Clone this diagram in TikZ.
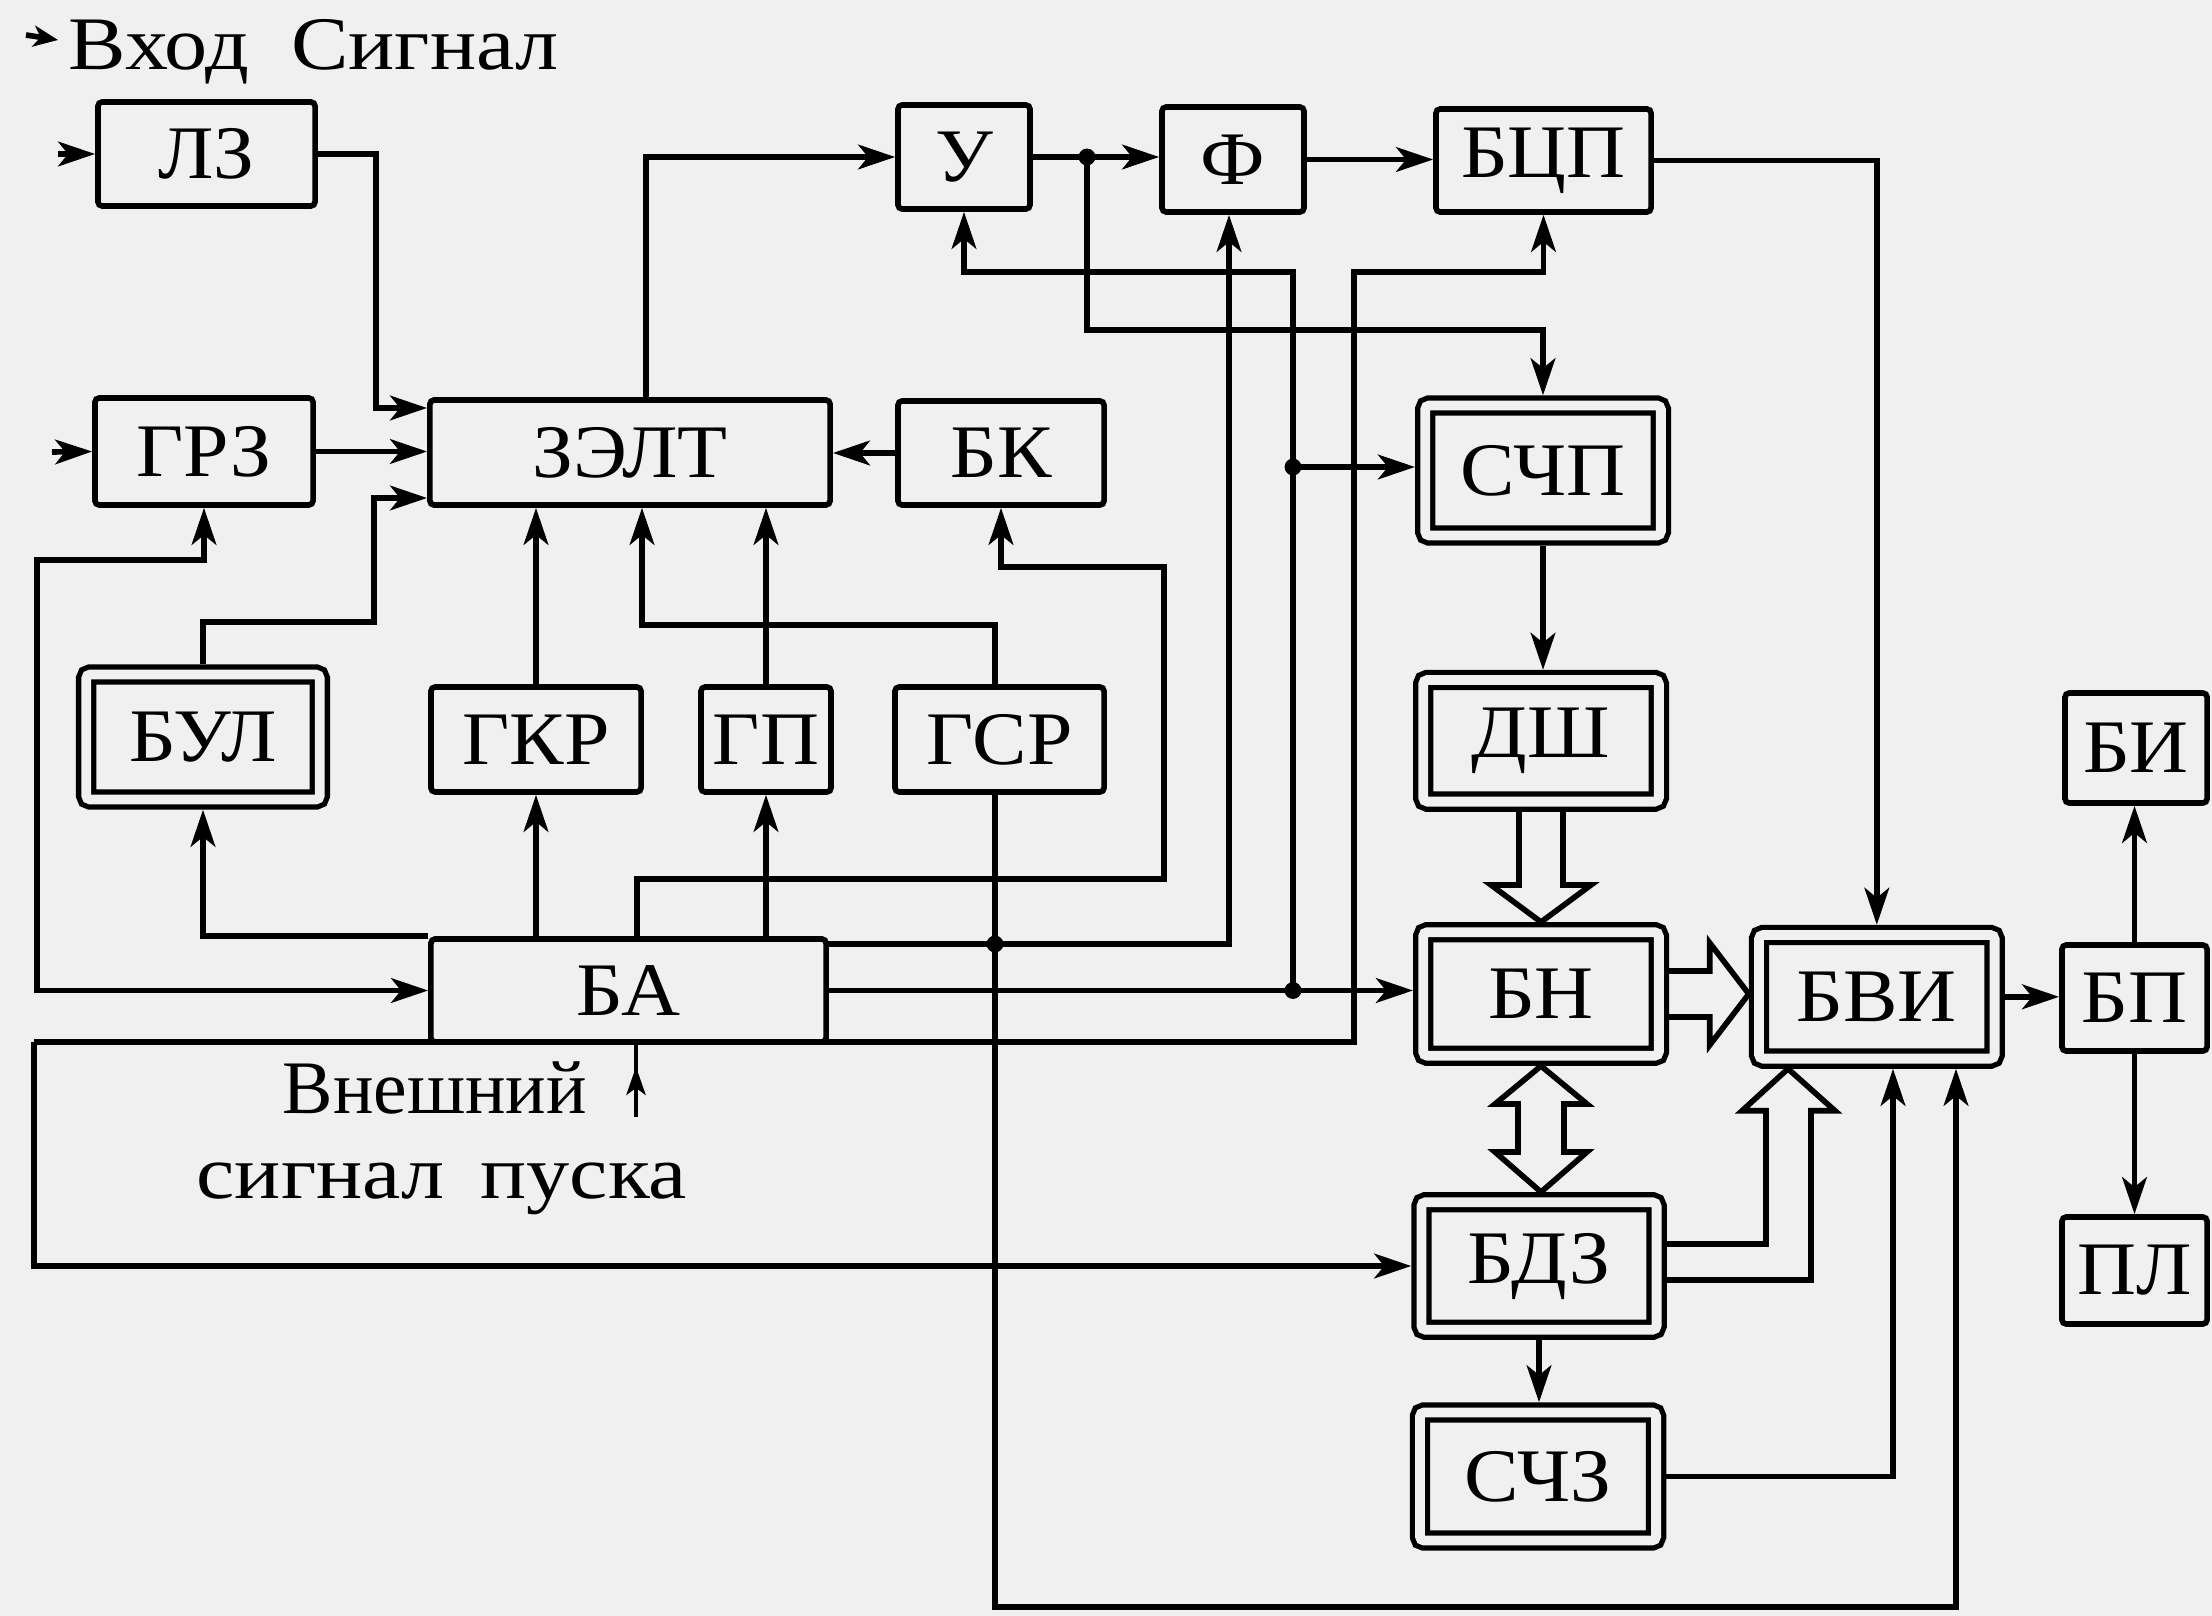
\documentclass[tikz,border=0pt]{standalone}
\usepackage{fontspec}
\setmainfont{Liberation Serif}[FakeStretch=1.08]
\newfontfamily\widefont{Liberation Serif}[FakeStretch=1.14]
\newfontfamily\plainfont{Liberation Serif}
\usetikzlibrary{arrows.meta,calc}
\definecolor{bgc}{RGB}{240,240,240}
\newcommand\lbl{\fontsize{21.5pt}{24pt}\selectfont}
\begin{document}
\begin{tikzpicture}[x=0.01cm,y=-0.01cm,
  font=\lbl,
  box/.style={draw, line width=1.6pt, rounded corners=1.2pt, inner sep=0pt},
  dbox/.style={draw, line width=1.5pt, double=bgc, double distance=2.8pt, outer sep=2.9pt, inner sep=0pt, rounded corners=1.2pt},
  wire/.style={line width=1.6pt, line join=miter},
  arr/.style={wire, -{Stealth[length=10.5pt,width=7pt,inset=2.8pt]}},
  arrb/.style={wire, {Stealth[length=10.5pt,width=7pt,inset=2.8pt]}-{Stealth[length=10.5pt,width=7pt,inset=2.8pt]}},
  hollow/.style={line width=1.6pt, line join=miter},
  txt/.style={anchor=base west, inner sep=0pt},
]
\fill[bgc] (0,0) rectangle (2212,1616);
\useasboundingbox (0,0) rectangle (2212,1616);

% ---------- blocks ----------
\node[box, minimum width=2.17cm, minimum height=1.04cm] (lz) at (206.5,154) {ЛЗ};
\node[box, minimum width=2.18cm, minimum height=1.07cm] (grz) at (204,451.5) {ГРЗ};
\node[box, minimum width=4.00cm, minimum height=1.05cm] (zelt) at (630,452.5) {ЗЭЛТ};
\node[box, minimum width=2.06cm, minimum height=1.04cm] (bk) at (1001,453) {БК};
\node[box, minimum width=1.32cm, minimum height=1.04cm] (u) at (964,157) {У};
\node[box, minimum width=1.42cm, minimum height=1.05cm] (f) at (1233,159.5) {Ф};
\node[box, minimum width=2.15cm, minimum height=1.03cm] (bcp) at (1543.5,160.5) {БЦП};
\node[dbox, minimum width=2.335cm, minimum height=1.25cm] (bul) at (203,737) {БУЛ};
\node[box, minimum width=2.10cm, minimum height=1.05cm] (gkr) at (536,739.5) {ГКР};
\node[box, minimum width=1.30cm, minimum height=1.05cm] (gp) at (766,739.5) {ГП};
\node[box, minimum width=2.09cm, minimum height=1.05cm] (gsr) at (999.5,739.5) {ГСР};
\node[box, minimum width=3.95cm, minimum height=1.03cm] (ba) at (628.5,990.5) {БА};
\node[dbox, minimum width=2.355cm, minimum height=1.30cm] (schp) at (1543,470.5) {СЧП};
\node[dbox, minimum width=2.355cm, minimum height=1.215cm] (dsh) at (1541,740.8) {ДШ};
\node[dbox, minimum width=2.355cm, minimum height=1.235cm] (bn) at (1541,994) {БН};
\node[dbox, minimum width=2.35cm, minimum height=1.275cm] (bdz) at (1539,1266) {БДЗ};
\node[dbox, minimum width=2.36cm, minimum height=1.28cm] (schz) at (1538,1476.5) {СЧЗ};
\node[dbox, minimum width=2.355cm, minimum height=1.235cm] (bvi) at (1876.8,996.8) {БВИ};
\node[box, minimum width=1.42cm, minimum height=1.10cm] (bi) at (2136,748) {БИ};
\node[box, minimum width=1.45cm, minimum height=1.06cm] (bp) at (2134.5,998) {БП};
\node[box, minimum width=1.45cm, minimum height=1.07cm] (pl) at (2134.5,1270.5) {ПЛ};

% ---------- texts ----------
\node[txt, font=\lbl\widefont] (title) at (68,70) {Вход\hspace{0.42cm}Сигнал};
\node[txt, font=\lbl\plainfont] (ext1) at (282,1113) {Внешний};
\node[txt, font=\lbl\widefont] (ext2) at (196,1198) {сигнал\hspace{0.36cm}пуска};

% ---------- helper coordinates ----------
\coordinate (lg0) at (26,35);
\coordinate (lg1) at (58,40);
\coordinate (inlz) at (58,154);
\coordinate (ingrz) at (52,452);
\coordinate (c1) at (376,408);
\coordinate (c2) at (374,622);
\coordinate (c3) at (374,498);
\coordinate (c4) at (642,625);
\coordinate (c5) at (646,157);
\coordinate (x1087) at (1087,0);
\coordinate (xv) at (1293,0);
\coordinate (xg) at (995,0);
\coordinate (xf) at (1229,0);
\coordinate (c6) at (1087,330);
\coordinate (c8) at (1293,272);
\coordinate (d3) at (1293,467);
\coordinate (c9) at (828,944);
\coordinate (c10) at (1956,1607);
\coordinate (c11) at (637,879);
\coordinate (c12) at (1164,567);
\coordinate (c13) at (37,560);
\coordinate (c14) at (34,1042);
\coordinate (c15) at (1354,1042);
\coordinate (c16) at (1354,272);
\coordinate (c17) at (1893,0);
\coordinate (c18) at (636,1117);
\coordinate (d1) at (u.east -| x1087);
\coordinate (d2) at (ba.east -| xv);
\coordinate (d4) at (c9 -| xg);

% ---------- input stubs ----------
\draw[wire, -{Stealth[length=7pt,width=6pt,inset=2pt]}] (lg0) -- (lg1);
\draw[arr] (inlz) -- (lz.west);
\draw[arr] (ingrz) -- (grz.west);

% ---------- left part ----------
\draw[arr] (lz.east) -| (c1) -- (zelt.west |- c1);
\draw[arr] (grz.east) -- (zelt.west |- grz.east);
\draw[arr] (bul.north) |- (c2) -- (c3) -- (zelt.west |- c3);
\draw[arr] (bk.west) -- (zelt.east |- bk.west);
\draw[arr] (gkr.north) -- (zelt.south -| gkr.north);
\draw[arr] (gp.north) -- (zelt.south -| gp.north);
\draw[arr] (gsr.north -| xg) |- (c4) -- (zelt.south -| c4);
\draw[arr] (ba.north west) -| (bul.south);
\draw[arr] (ba.north -| gkr.south) -- (gkr.south);
\draw[arr] (ba.north -| gp.south) -- (gp.south);
\draw[arr] (ba.north -| c11) -- (c11) -| (c12) -| (bk.south);
\draw[arrb] (grz.south) |- (c13) |- (ba.west);
\draw[arr] (c14) -- (c15) -- (c16) -| (bcp.south);
\draw[arr] (c14) |- (bdz.west);
\draw[line width=1pt] (c18) -- (ba.south -| c18);
\draw[line width=1pt, -{Stealth[length=8pt,width=5.5pt,inset=2pt]}] (c18) -- ($(ba.south -| c18)+(0,22)$);

% ---------- top chain ----------
\draw[arr] (zelt.north -| c5) |- (u.west);
\draw[arr] (u.east) -- (f.west |- u.east);
\draw[arr] (f.east) -- (bcp.west |- f.east);
\draw[arr] (d1) -- (c6) -| (schp.north);
\draw[arr] (ba.east) -- (bn.west |- ba.east);
\draw[arr] (d2) -- (c8) -| (u.south);
\draw[arr] (d3) -- (schp.west |- d3);
\draw[arr] (c9) -| (f.south -| xf);
\draw[arr] (gsr.south -| xg) |- (c10) -- (bvi.south -| c10);
\draw[arr] (bcp.east) -| (bvi.north);

% ---------- right column ----------
\draw[arr] (schp.south) -- (dsh.north -| schp.south);
\draw[arr] (bdz.south) -- (schz.north -| bdz.south);
\draw[arr] (schz.east) -| (bvi.south -| c17);
\draw[arr] (bvi.east) -- (bp.west |- bvi.east);
\draw[arr] (bp.north) -- (bi.south -| bp.north);
\draw[arr] (bp.south) -- (pl.north -| bp.south);

% ---------- hollow (bus) arrows ----------
\coordinate (hb1) at ($(bn.north)+(0,-37)$);
\draw[hollow] ($(dsh.south)+(-22,0)$) -- ($(hb1)+(-22,0)$) -- ($(hb1)+(-50,0)$) -- (bn.north) -- ($(hb1)+(50,0)$) -- ($(hb1)+(22,0)$) -- ($(dsh.south)+(22,0)$);

\coordinate (t2) at (bvi.west |- bn.east);
\draw[hollow] ($(bn.east)+(0,-23)$) -- ($(t2)+(-39,-23)$) -- ($(t2)+(-39,-51)$) -- (t2) -- ($(t2)+(-39,51)$) -- ($(t2)+(-39,23)$) -- ($(bn.east)+(0,23)$);

\coordinate (t3a) at (bn.south);
\coordinate (t3b) at (bdz.north -| bn.south);
\draw[hollow] (t3a) -- ($(t3a)+(46,38)$) -- ($(t3a)+(23,38)$) -- ($(t3b)+(23,-40)$) -- ($(t3b)+(46,-40)$) -- (t3b) -- ($(t3b)+(-46,-40)$) -- ($(t3b)+(-23,-40)$) -- ($(t3a)+(-23,38)$) -- ($(t3a)+(-46,38)$) -- cycle;

\coordinate (xb) at (1788,0);
\coordinate (t4) at (bvi.south -| xb);
\draw[hollow] ($(bdz.east)+(0,-22)$) -| ($(t4)+(-22,42)$) -- ($(t4)+(-46,42)$) -- (t4) -- ($(t4)+(47,42)$) -- ($(t4)+(23,42)$) |- ($(bdz.east)+(0,14)$);

% ---------- junction dots ----------
\fill (d1) circle (2.4pt);
\fill (d2) circle (2.4pt);
\fill (d3) circle (2.4pt);
\fill (d4) circle (2.4pt);
\end{tikzpicture}
\end{document}
